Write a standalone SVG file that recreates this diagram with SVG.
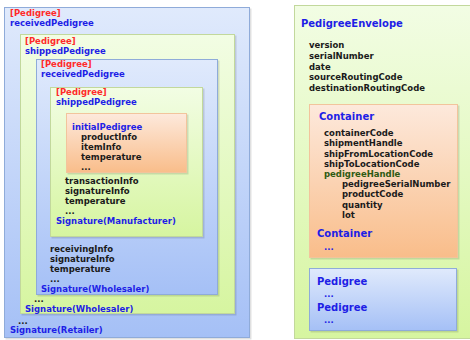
<svg xmlns="http://www.w3.org/2000/svg" width="470" height="340" viewBox="0 0 470 340">
<defs>
<linearGradient id="gBlue" x1="0" y1="0" x2="0" y2="1"><stop offset="0" stop-color="#e0eafc"/><stop offset="1" stop-color="#a5c0f6"/></linearGradient>
<linearGradient id="gGreen" x1="0" y1="0" x2="0" y2="1"><stop offset="0" stop-color="#f2fde4"/><stop offset="1" stop-color="#d6f5a0"/></linearGradient>
<linearGradient id="gOrange" x1="0" y1="0" x2="0" y2="1"><stop offset="0" stop-color="#fde9dc"/><stop offset="1" stop-color="#f9bd8a"/></linearGradient>
<style>
.t{font-family:"DejaVu Sans","Verdana",sans-serif;font-weight:bold;font-size:8.5px;fill:#1a1a1a}
.r{fill:#ff2a2a}
.b{fill:#1e1ee6}
.h{font-size:10px}
.dg{fill:#2e5a12}
.bx{stroke-width:1}
.blue{fill:url(#gBlue);stroke:#8fabd9}
.green{fill:url(#gGreen);stroke:#c2d89c}
.orange{fill:url(#gOrange);stroke:#f2c49c}
.sh{fill:#000;opacity:0.12}
</style>
</defs>
<g id="retailer">
<rect class="sh" x="5.5" y="8.5" width="246" height="331"/>
<rect class="bx blue" x="4.5" y="7.5" width="245" height="330"/>
<text class="t r" x="10" y="16">[Pedigree]</text>
<text class="t b" x="10" y="26">receivedPedigree</text>
<text class="t" x="18" y="324">...</text>
<text class="t b" x="10" y="333">Signature(Retailer)</text>
</g>
<g id="wholesaler-shipped">
<rect class="sh" x="21.5" y="35.5" width="215" height="280"/>
<rect class="bx green" x="20.5" y="34.5" width="214" height="279"/>
<text class="t r" x="25" y="44">[Pedigree]</text>
<text class="t b" x="25" y="54">shippedPedigree</text>
<text class="t" x="34" y="302">...</text>
<text class="t b" x="25" y="312">Signature(Wholesaler)</text>
</g>
<g id="wholesaler-received">
<rect class="sh" x="37.5" y="60.5" width="182" height="236"/>
<rect class="bx blue" x="36.5" y="59.5" width="181" height="235"/>
<text class="t r" x="41" y="67">[Pedigree]</text>
<text class="t b" x="41" y="77">receivedPedigree</text>
<text class="t" x="50" y="252">receivingInfo</text>
<text class="t" x="50" y="262">signatureInfo</text>
<text class="t" x="50" y="272">temperature</text>
<text class="t" x="50" y="282">...</text>
<text class="t b" x="41" y="292">Signature(Wholesaler)</text>
</g>
<g id="manufacturer-shipped">
<rect class="sh" x="51.5" y="88.5" width="153" height="150"/>
<rect class="bx green" x="50.5" y="87.5" width="152" height="149"/>
<text class="t r" x="56" y="95">[Pedigree]</text>
<text class="t b" x="56" y="105">shippedPedigree</text>
<text class="t" x="65" y="184">transactionInfo</text>
<text class="t" x="65" y="194">signatureInfo</text>
<text class="t" x="65" y="204">temperature</text>
<text class="t" x="65" y="214">...</text>
<text class="t b" x="56" y="224">Signature(Manufacturer)</text>
</g>
<g id="initial-pedigree">
<rect class="sh" x="67.5" y="114.5" width="121" height="60"/>
<rect class="bx orange" x="66.5" y="113.5" width="120" height="59"/>
<text class="t b" x="72" y="130">initialPedigree</text>
<text class="t" x="81" y="140">productInfo</text>
<text class="t" x="81" y="150">itemInfo</text>
<text class="t" x="81" y="160">temperature</text>
<text class="t" x="81" y="170">...</text>
</g>
<g id="envelope">
<rect class="bx green" x="294.5" y="5.5" width="180" height="333"/>
<text class="t b h" x="301" y="27">PedigreeEnvelope</text>
<text class="t" x="309" y="48">version</text>
<text class="t" x="309" y="59">serialNumber</text>
<text class="t" x="309" y="70">date</text>
<text class="t" x="309" y="80">sourceRoutingCode</text>
<text class="t" x="309" y="91">destinationRoutingCode</text>
</g>
<g id="container">
<rect class="sh" x="310.5" y="105.5" width="149" height="154"/>
<rect class="bx orange" x="309.5" y="104.5" width="148" height="153"/>
<text class="t b h" x="319" y="120">Container</text>
<text class="t" x="324" y="136">containerCode</text>
<text class="t" x="324" y="146">shipmentHandle</text>
<text class="t" x="324" y="157">shipFromLocationCode</text>
<text class="t" x="324" y="167">shipToLocationCode</text>
<text class="t dg" x="324" y="177">pedigreeHandle</text>
<text class="t" x="342" y="187">pedigreeSerialNumber</text>
<text class="t" x="342" y="197">productCode</text>
<text class="t" x="342" y="208">quantity</text>
<text class="t" x="342" y="218">lot</text>
<text class="t b h" x="317" y="237">Container</text>
<text class="t b" x="324" y="250">...</text>
</g>
<g id="pedigrees">
<rect class="sh" x="310.5" y="269.5" width="148" height="63"/>
<rect class="bx blue" x="309.5" y="268.5" width="147" height="62"/>
<text class="t b h" x="317" y="285">Pedigree</text>
<text class="t b" x="324" y="297">...</text>
<text class="t b h" x="317" y="311">Pedigree</text>
<text class="t b" x="324" y="323">...</text>
</g>
<g id="connectors"/>
</svg>
